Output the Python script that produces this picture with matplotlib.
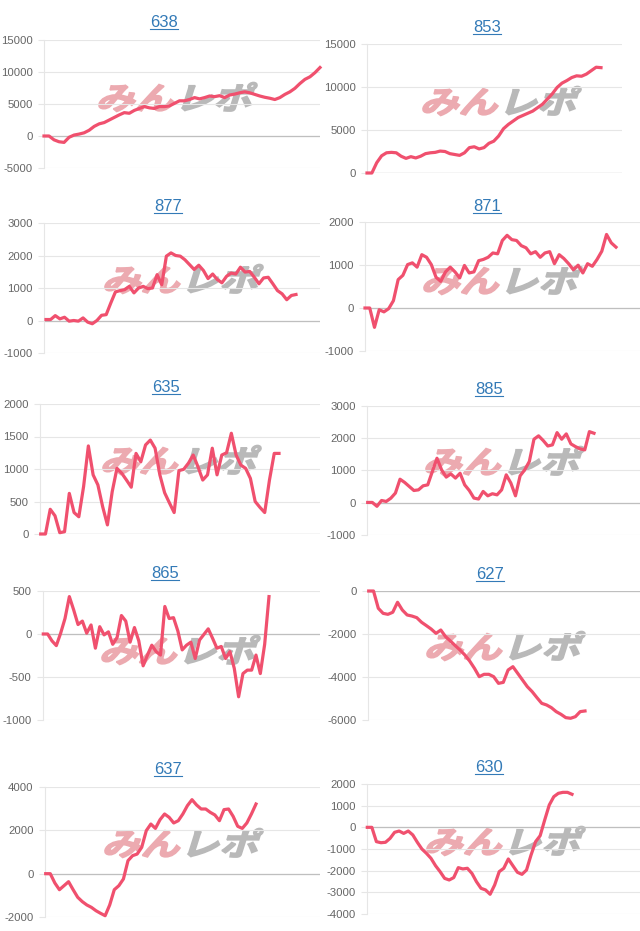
import numpy as np
import matplotlib
matplotlib.use('Agg')
import matplotlib.pyplot as plt
from matplotlib.textpath import TextPath
from matplotlib.patches import PathPatch
from matplotlib.font_manager import FontProperties
from matplotlib.transforms import Affine2D
from matplotlib.lines import Line2D
from matplotlib.ticker import FuncFormatter

plt.rcParams['axes.unicode_minus'] = False
plt.rcParams['font.family'] = ['Liberation Sans', 'DejaVu Sans']

W, H = 640, 931

titles = ['638', '853', '877', '871', '635', '885', '865', '627', '637', '630']

v638 = [0, 0, -600, -900, -1000, -200, 150, 300, 500, 900, 1500, 1900, 2100, 2500, 2900,
        3300, 3650, 3550, 4000, 4300, 4600, 4400, 4300, 4600, 4600, 4700, 5100, 5500, 5500,
        5700, 6000, 5800, 6000, 6250, 6150, 6300, 6000, 6400, 6550, 6750, 6900, 6750, 6500,
        6250, 6050, 5900, 5700, 6000, 6500, 6900, 7450, 8200, 8850, 9250, 9900, 10700]
v853 = [0, 0, 1200, 2000, 2350, 2400, 2350, 1950, 1700, 1900, 1750, 1950, 2250, 2350, 2400,
        2550, 2500, 2250, 2150, 2050, 2350, 2950, 3050, 2800, 2950, 3450, 3700, 4300, 5150,
        5650, 6050, 6450, 6700, 6950, 7200, 7600, 8000, 8600, 9200, 9950, 10450, 10750, 11100,
        11300, 11250, 11500, 11900, 12300, 12250]
v877 = [30, 30, 150, 50, 100, -20, 0, -20, 80, -50, -100, 0, 160, 180, 540, 880, 920, 950,
        1050, 850, 1000, 1050, 980, 1000, 1410, 1100, 1980, 2080, 2000, 1980, 1870, 1720,
        1570, 1700, 1540, 1290, 1430, 1260, 1160, 1360, 1460, 1430, 1640, 1490, 1510, 1330,
        1130, 1310, 1330, 1130, 920, 820, 640, 770, 800]
v871 = [0, 0, -450, -40, -90, -15, 170, 660, 760, 1010, 1050, 950, 1240, 1180, 1010, 715,
        620, 840, 950, 840, 700, 990, 815, 840, 1100, 1130, 1180, 1280, 1260, 1570, 1690,
        1590, 1570, 1450, 1400, 1260, 1310, 1180, 1280, 1310, 1030, 1240, 1150, 1030, 890,
        995, 815, 1030, 970, 1130, 1320, 1710, 1515, 1415]
v635 = [0, 0, 380, 280, 20, 35, 625, 330, 265, 730, 1355, 910, 755, 420, 140, 650, 1010,
        935, 830, 720, 1240, 1110, 1370, 1445, 1320, 910, 635, 480, 330, 975, 995, 1090,
        1215, 1035, 830, 910, 1320, 910, 1215, 1250, 1550, 1215, 1060, 1010, 855, 500, 410,
        330, 830, 1240, 1240]
v885 = [10, 10, -110, 70, 40, 140, 300, 730, 630, 505, 380, 400, 525, 555, 970, 1380, 1020,
        795, 895, 765, 915, 555, 380, 145, 115, 350, 215, 280, 245, 400, 865, 610, 215, 835,
        1020, 1280, 1970, 2075, 1930, 1760, 1795, 2175, 1970, 2135, 1825, 1740, 1670, 1640,
        2205, 2155]
v865 = [0, 0, -80, -135, 10, 180, 435, 280, 110, 150, 10, 105, -165, 85, -10, 25, -120, -40,
        215, 150, -95, 75, -80, -370, -245, -130, -205, -245, 320, 180, 190, 35, -185, -130,
        -95, -285, -70, -5, 60, -50, -165, -145, -285, -205, -400, -730, -460, -420, -420,
        -245, -460, -120, 435]
v627 = [0, 0, -805, -1040, -1085, -990, -525, -885, -1115, -1165, -1240, -1455, -1610, -1770,
        -1970, -1815, -2125, -2325, -2540, -2745, -2975, -3255, -3595, -3985, -3875, -3875,
        -3985, -4295, -4250, -3675, -3520, -3830, -4140, -4450, -4680, -4960, -5225, -5300,
        -5425, -5610, -5735, -5890, -5920, -5845, -5610, -5580]
v637 = [0, 0, -430, -740, -555, -370, -740, -1090, -1290, -1445, -1555, -1710, -1830, -1940,
        -1445, -740, -555, -245, 600, 830, 905, 1215, 1985, 2290, 2090, 2490, 2755, 2600, 2340,
        2445, 2755, 3140, 3415, 3170, 2985, 2985, 2830, 2710, 2445, 2955, 2985, 2645, 2185,
        2090, 2340, 2755, 3215]
v630 = [0, 0, -660, -710, -690, -510, -230, -170, -280, -170, -350, -690, -1000, -1200, -1430,
        -1770, -2045, -2355, -2430, -2320, -1860, -1920, -1890, -2125, -2510, -2815, -2890,
        -3090, -2660, -2045, -1890, -1460, -1770, -2075, -2170, -1970, -1275, -660, -385, 340,
        1030, 1415, 1570, 1615, 1615, 1525]

series = [v638, v853, v877, v871, v635, v885, v865, v627, v637, v630]

yticks_list = [
    [-5000, 0, 5000, 10000, 15000],
    [0, 5000, 10000, 15000],
    [-1000, 0, 1000, 2000, 3000],
    [-1000, 0, 1000, 2000],
    [0, 500, 1000, 1500, 2000],
    [-1000, 0, 1000, 2000, 3000],
    [-1000, -500, 0, 500],
    [-6000, -4000, -2000, 0],
    [-2000, 0, 2000, 4000],
    [-4000, -3000, -2000, -1000, 0, 1000, 2000],
]

# layout in image pixels: axes L, R, T, B; first/last point x; title centre; watermark centre
layout = [
    dict(L=44, R=320, T=40, B=168, s=44, e=320, tx=164, ty=21, wx=178, wy=97),
    dict(L=367, R=622, T=44, B=173, s=367, e=601, tx=487, ty=26, wx=502, wy=101),
    dict(L=44, R=320, T=223, B=353, s=46, e=296, tx=168, ty=205, wx=184, wy=279),
    dict(L=365, R=640, T=222, B=351, s=365, e=616, tx=487, ty=205, wx=503, wy=280),
    dict(L=40, R=320, T=404, B=534, s=40.7, e=279, tx=166, ty=386, wx=182, wy=460),
    dict(L=367, R=640, T=406, B=535, s=367.7, e=594, tx=489, ty=388, wx=505, wy=461),
    dict(L=43, R=320, T=591, B=720, s=43.3, e=269, tx=165, ty=572, wx=181, wy=650),
    dict(L=368, R=640, T=591, B=720, s=368.7, e=585, tx=490, ty=573, wx=506, wy=646),
    dict(L=45, R=320, T=787, B=917, s=45.7, e=256, tx=168, ty=768, wx=184, wy=843),
    dict(L=367, R=640, T=784, B=914, s=367.3, e=572, tx=489, ty=766, wx=506, wy=841),
]

LINE = '#f0506e'
GRID = '#e6e6e6'
ZERO = '#bfbfbf'
LINK = '#337ab7'

fig = plt.figure(figsize=(W / 100, H / 100), dpi=100)
fig.patch.set_facecolor('white')

fp_wm = FontProperties(family='Noto Sans CJK JP', weight='bold')


def watermark(cx, cy, w=158, h=29):
    p1 = TextPath((0, 0), 'みん', size=100, prop=fp_wm)
    p2 = TextPath((0, 0), 'レポ', size=100, prop=fp_wm)
    off = p1.get_extents().x1 + 6
    sk = Affine2D().skew_deg(14, 0)
    q1 = p1.transformed(sk)
    q2 = p2.transformed(Affine2D().translate(off, 0) + sk)
    e1, e2 = q1.get_extents(), q2.get_extents()
    x0, x1 = min(e1.x0, e2.x0), max(e1.x1, e2.x1)
    y0, y1 = min(e1.y0, e2.y0), max(e1.y1, e2.y1)
    A = (Affine2D().translate(-(x0 + x1) / 2, -(y0 + y1) / 2)
         .scale(w / (x1 - x0), h / (y1 - y0))
         .translate(cx, H - cy).scale(1 / W, 1 / H))
    for q, c in ((q1, '#ecaab0'), (q2, '#b9b9b9')):
        pp = PathPatch(q, fc=c, ec=c, lw=1.2, zorder=-5)
        pp.set_transform(A + fig.transFigure)
        fig.add_artist(pp)


title_texts = []
for title, vals, yt, lo in zip(titles, series, yticks_list, layout):
    L, R, T, B = lo['L'], lo['R'], lo['T'], lo['B']
    ax = fig.add_axes([L / W, 1 - B / H, (R - L) / W, (B - T) / H])
    ax.set_facecolor('none')
    n = len(vals)
    x = np.arange(n)
    d = (lo['e'] - lo['s']) / (n - 1)
    ax.set_xlim(-(lo['s'] - L) / d, (n - 1) + (R - lo['e']) / d)
    ax.set_ylim(yt[0], yt[-1])
    ax.set_yticks(yt)
    ax.yaxis.set_major_formatter(FuncFormatter(lambda v, p: str(int(round(v)))))
    ax.set_xticks([])
    for sp in ('top', 'right', 'bottom'):
        ax.spines[sp].set_visible(False)
    ax.spines['left'].set_color(GRID)
    ax.spines['left'].set_linewidth(0.8)
    ax.yaxis.grid(True, color=GRID, lw=0.8)
    ax.set_axisbelow(True)
    ax.tick_params(axis='y', length=4, width=0.8, color=GRID, pad=4.2,
                   labelsize=8.2, labelcolor='#666666')
    if yt[0] <= 0 <= yt[-1]:
        ax.axhline(0, color=ZERO, lw=0.9, zorder=1)
    ax.plot(x, vals, color=LINE, lw=2.3, solid_joinstyle='round', zorder=3, clip_on=False)

    watermark(lo['wx'], lo['wy'])
    base = lo['ty'] + 6.3
    t = fig.text(lo['tx'] / W, 1 - base / H, title, ha='center', va='baseline',
                 fontsize=12, color=LINK)
    title_texts.append((t, base))

fig.canvas.draw()
for t, base in title_texts:
    bb = t.get_window_extent()
    yu = 1 - (base + 1.6) / H
    fig.add_artist(Line2D([bb.x0 / W, bb.x1 / W], [yu, yu], transform=fig.transFigure,
                          color=LINK, lw=0.8))

fig.savefig('out.png', dpi=100)
